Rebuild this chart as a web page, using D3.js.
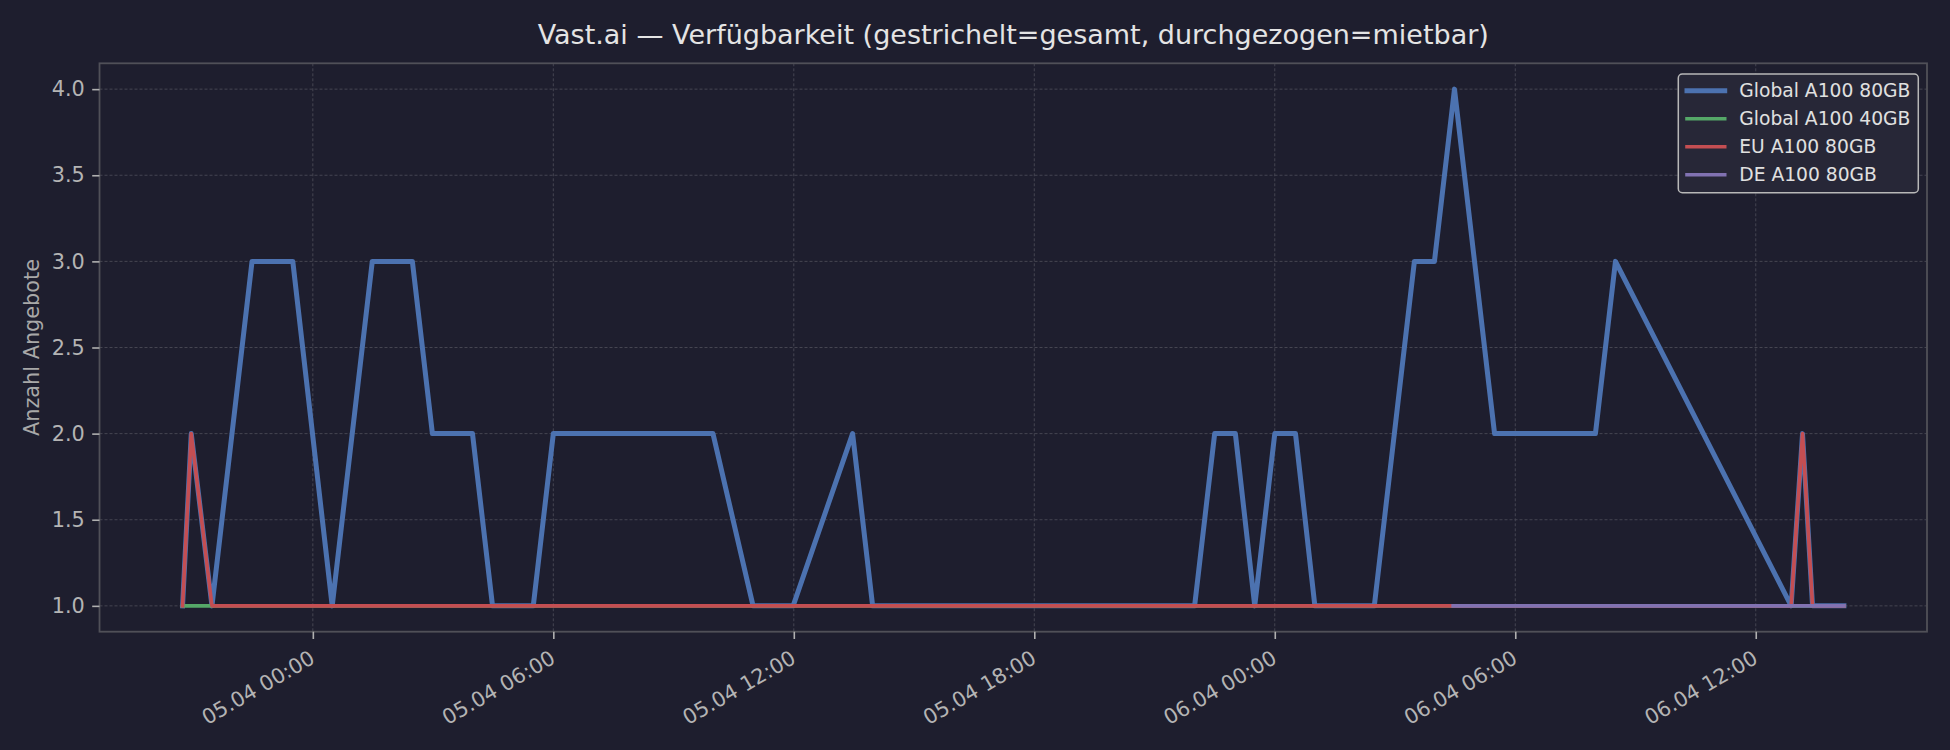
<!DOCTYPE html>
<html>
<head>
<meta charset="utf-8">
<script src="https://cdn.jsdelivr.net/npm/d3@7"></script>
<style>
	body { margin: 0; background: #1e1e2e; }
	svg { display: block; font-family: "DejaVu Sans", sans-serif; }
	.grid line { stroke: #4a4a56; stroke-width: 0.9; stroke-dasharray: 3,2; }
	.axis path { display: none; }
	.axis line { stroke: #b0b0b0; stroke-width: 1.6; }
	.axis text { fill: #b4b4b4; font-size: 20.8px; font-family: "DejaVu Sans", sans-serif; }
	.series { fill: none; stroke-linejoin: round; stroke-linecap: square; }
</style>
</head>
<body>
<div id="chart"></div>
<script>
//Data, one time/value pair per vertex

	var globalA100_80Times = [
		"2025-04-04 20:45", "2025-04-04 20:58", "2025-04-04 21:29", "2025-04-04 22:29", "2025-04-04 23:30",
		"2025-04-05 00:29", "2025-04-05 01:29", "2025-04-05 02:29", "2025-04-05 02:59", "2025-04-05 03:59",
		"2025-04-05 04:29", "2025-04-05 05:30", "2025-04-05 06:00", "2025-04-05 09:59", "2025-04-05 10:59",
		"2025-04-05 11:59", "2025-04-05 13:28", "2025-04-05 13:58", "2025-04-05 22:00", "2025-04-05 22:30",
		"2025-04-05 23:01", "2025-04-05 23:30", "2025-04-06 00:00", "2025-04-06 00:31", "2025-04-06 01:00",
		"2025-04-06 02:29", "2025-04-06 03:29", "2025-04-06 03:59", "2025-04-06 04:29", "2025-04-06 05:29",
		"2025-04-06 08:00", "2025-04-06 08:30", "2025-04-06 12:53", "2025-04-06 13:10", "2025-04-06 13:25",
		"2025-04-06 14:12"];
	var globalA100_80Values = [
		1, 2, 1, 3, 3,
		1, 3, 3, 2, 2,
		1, 1, 2, 2, 1,
		1, 2, 1, 1, 2,
		2, 1, 2, 2, 1,
		1, 3, 3, 4, 2,
		2, 3, 1, 2, 1,
		1];

	var globalA100_40Times = ["2025-04-04 20:45", "2025-04-06 14:12"];
	var globalA100_40Values = [1, 1];

	var euA100_80Times = ["2025-04-04 20:45", "2025-04-04 20:58", "2025-04-04 21:29",
		"2025-04-06 12:53", "2025-04-06 13:10", "2025-04-06 13:25", "2025-04-06 14:12"];
	var euA100_80Values = [1, 2, 1, 1, 2, 1, 1];

	var deA100_80Times = ["2025-04-06 04:27", "2025-04-06 14:12"];
	var deA100_80Values = [1, 1];

	var seriesNames = ["Global A100 80GB", "Global A100 40GB", "EU A100 80GB", "DE A100 80GB"];
	var seriesColors = ["#4c72b0", "#55a868", "#c44e52", "#8172b2"];
	var seriesWidths = [5.0, 3.6, 3.6, 3.6];

	var yTicks = [1.0, 1.5, 2.0, 2.5, 3.0, 3.5, 4.0];

//General use variables

	var W = 1950, H = 750;
	var margin = {top: 63.3, right: 23, bottom: 118.3, left: 99.5},
		w = W - margin.left - margin.right,
		h = H - margin.top - margin.bottom;

	var parseDate = d3.timeParse("%Y-%m-%d %H:%M");
	var formatTick = d3.timeFormat("%d.%m %H:%M");

	function pairs(times, values) {
		return times.map(function(t, i) { return {date: parseDate(t), value: values[i]}; });
	}

	var series = [
		pairs(globalA100_80Times, globalA100_80Values),
		pairs(globalA100_40Times, globalA100_40Values),
		pairs(euA100_80Times, euA100_80Values),
		pairs(deA100_80Times, deA100_80Values)
	];

//Scales - padded 5% on each side like the original

	var allDates = d3.merge(series).map(function(d) { return d.date; });
	var tExt = d3.extent(allDates);
	var tPad = (tExt[1] - tExt[0]) * 0.05;
	var xScale = d3.scaleTime()
		.domain([new Date(+tExt[0] - tPad), new Date(+tExt[1] + tPad)])
		.range([0, w]);

	var yScale = d3.scaleLinear()
		.domain([0.85, 4.15])
		.range([h, 0]);

	var xTicks = xScale.ticks(d3.timeHour.every(6));

//Canvas

	var svg = d3.select("#chart")
		.append("svg")
		.attr("width", W)
		.attr("height", H);

	svg.append("rect")
		.attr("width", W)
		.attr("height", H)
		.attr("fill", "#1e1e2e");

	svg.append("text")
		.attr("x", margin.left + w / 2)
		.attr("y", 44)
		.attr("text-anchor", "middle")
		.attr("fill", "#e4e4e4")
		.attr("font-size", "27px")
		.text("Vast.ai \u2014 Verf\u00fcgbarkeit (gestrichelt=gesamt, durchgezogen=mietbar)");

	var g = svg.append("g")
		.attr("transform", "translate(" + margin.left + "," + margin.top + ")");

//Grid

	g.append("g")
		.attr("class", "grid")
		.selectAll("line.gx")
		.data(xTicks)
		.enter()
		.append("line")
			.attr("x1", function(d) { return xScale(d); })
			.attr("x2", function(d) { return xScale(d); })
			.attr("y1", 0)
			.attr("y2", h);

	g.append("g")
		.attr("class", "grid")
		.selectAll("line.gy")
		.data(yTicks)
		.enter()
		.append("line")
			.attr("x1", 0)
			.attr("x2", w)
			.attr("y1", function(d) { return yScale(d); })
			.attr("y2", function(d) { return yScale(d); });

//Lines

	var line = d3.line()
		.x(function(d) { return xScale(d.date); })
		.y(function(d) { return yScale(d.value); });

	g.selectAll("path.series")
		.data(series)
		.enter()
		.append("path")
			.attr("class", "series")
			.attr("d", line)
			.attr("stroke", function(d, i) { return seriesColors[i]; })
			.attr("stroke-width", function(d, i) { return seriesWidths[i]; });

//Frame

	g.append("rect")
		.attr("width", w)
		.attr("height", h)
		.attr("fill", "none")
		.attr("stroke", "#505058")
		.attr("stroke-width", 1.8);

//Axes

	var yAxis = d3.axisLeft(yScale)
		.tickValues(yTicks)
		.tickFormat(d3.format(".1f"))
		.tickSize(7.3)
		.tickPadding(7.4);

	g.append("g")
		.attr("class", "axis y-axis")
		.call(yAxis);

	var xAxis = d3.axisBottom(xScale)
		.tickValues(xTicks)
		.tickFormat(formatTick)
		.tickSize(7.3);

	var xg = g.append("g")
		.attr("class", "axis x-axis")
		.attr("transform", "translate(0," + h + ")")
		.call(xAxis);

	//rotated tick labels, right end pinned under the tick
	xg.selectAll("text")
		.attr("text-anchor", "end")
		.attr("dy", null)
		.attr("y", 0)
		.attr("transform", "translate(3,30.5) rotate(-30)");

	//Y label
	svg.append("text")
		.attr("transform", "translate(31," + (margin.top + h / 2) + ") rotate(-90)")
		.attr("text-anchor", "middle")
		.attr("dy", "0.36em")
		.attr("fill", "#a8a8a8")
		.attr("font-size", "20.8px")
		.text("Anzahl Angebote");

//Legend

	var legend = svg.append("g")
		.attr("transform", "translate(1678.3,74)");

	legend.append("rect")
		.attr("width", 240)
		.attr("height", 118.7)
		.attr("rx", 4)
		.attr("fill", "#272737")
		.attr("stroke", "#b8b8b8")
		.attr("stroke-width", 1.5);

	var rows = legend.selectAll("g.row")
		.data(seriesNames)
		.enter()
		.append("g")
			.attr("class", "row")
			.attr("transform", function(d, i) { return "translate(0," + (16.7 + i * 28) + ")"; });

	rows.append("line")
		.attr("x1", 8.7)
		.attr("x2", 46.4)
		.attr("stroke", function(d, i) { return seriesColors[i]; })
		.attr("stroke-width", function(d, i) { return seriesWidths[i]; })
		.attr("stroke-linecap", "square");

	rows.append("text")
		.attr("x", 61)
		.attr("dy", "0.36em")
		.attr("fill", "#e0e0e0")
		.attr("font-size", "18.7px")
		.text(function(d) { return d; });
</script>
</body>
</html>
